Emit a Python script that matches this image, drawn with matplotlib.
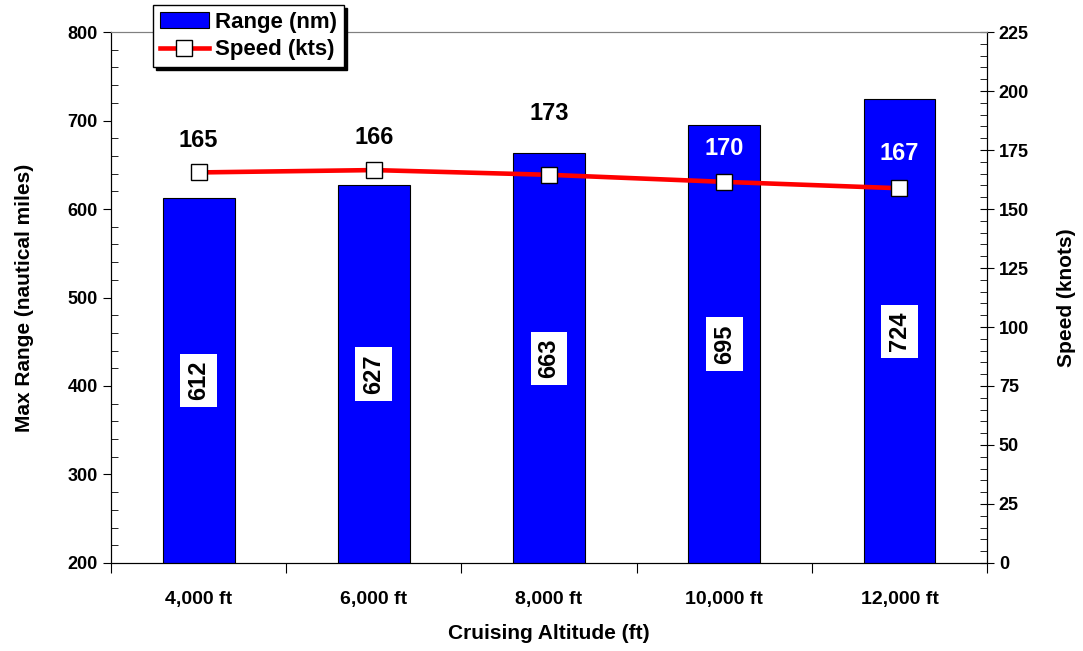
import matplotlib.pyplot as plt
import numpy as np
from matplotlib.ticker import MultipleLocator

plt.rcParams['font.family'] = ['Liberation Sans', 'DejaVu Sans']
plt.rcParams['font.weight'] = 'bold'

# data
altitudes = ["4,000 ft", "6,000 ft", "8,000 ft", "10,000 ft", "12,000 ft"]
ranges = [612, 627, 663, 695, 724]
speeds = [165.5, 166.5, 164.5, 161.5, 158.8]        # where the markers sit
speed_labels = ["165", "166", "173", "170", "167"]   # printed labels
speed_label_y = [179, 180.5, 190.5, 175.5, 173.5]     # label heights (knots)
speed_label_col = ["black", "black", "black", "white", "white"]

fig = plt.figure(figsize=(10.83, 6.51), dpi=100)
ax = fig.add_axes([0.1025, 0.1352, 0.8089, 0.8156])
ax2 = ax.twinx()

x = np.arange(len(altitudes))
bars = ax.bar(x, ranges, width=0.41, color="#0000ff", edgecolor="black",
              linewidth=0.8, label="Range (nm)", zorder=2)
ax.set_ylim(200, 800)
ax.set_xlim(-0.5, len(altitudes) - 0.5)

# range labels, rotated, in middle of bars
for xi, r in zip(x, ranges):
    ax.text(xi, (200 + r) / 2, str(r), rotation=90, ha="center", va="center",
            fontsize=17, fontweight="bold", zorder=3,
            bbox=dict(facecolor="white", edgecolor="none", pad=5))

ln, = ax2.plot(x, speeds, color="#ff0000", linewidth=3.3, marker="s",
               markersize=11, markerfacecolor="white", markeredgecolor="black",
               markeredgewidth=1, label="Speed (kts)")
ax2.set_ylim(0, 225)
for xi, lab, ly, c in zip(x, speed_labels, speed_label_y, speed_label_col):
    ax2.text(xi, ly, lab, ha="center", va="center", fontsize=17,
             fontweight="bold", color=c)

# ticks
ax.set_xticks(np.arange(-0.5, len(altitudes), 1.0))
ax.set_xticklabels([])
ax.set_xticks(x, minor=True)
ax.set_xticklabels(altitudes, minor=True, fontsize=14, fontweight="bold")
ax.tick_params(axis="x", which="major", direction="out", length=7)
ax.tick_params(axis="x", which="minor", length=0, pad=20)

ax.yaxis.set_major_locator(MultipleLocator(100))
ax.yaxis.set_minor_locator(MultipleLocator(20))
ax.tick_params(axis="y", which="major", direction="out", length=6, labelsize=13)
ax.tick_params(axis="y", which="minor", direction="in", length=5)

ax2.yaxis.set_major_locator(MultipleLocator(25))
ax2.yaxis.set_minor_locator(MultipleLocator(5))
ax2.tick_params(axis="y", which="major", direction="inout", length=10, labelsize=13)
ax2.tick_params(axis="y", which="minor", direction="in", length=5)

for a in (ax, ax2):
    a.spines["top"].set_color("#808080")
    a.spines["bottom"].set_color("black")

ax.set_ylabel("Max Range (nautical miles)", fontsize=15, fontweight="bold", labelpad=24)
ax2.set_ylabel("Speed (knots)", fontsize=15, fontweight="bold", labelpad=20)
ax.set_xlabel("Cruising Altitude (ft)", fontsize=15, fontweight="bold", labelpad=12)

leg = fig.legend(handles=[bars, ln], loc="upper left",
                 bbox_to_anchor=(153 / 1083, 1 - 5 / 651), fontsize=16,
                 frameon=True, fancybox=False, edgecolor="black", framealpha=1,
                 shadow={"color": "black", "alpha": 1}, borderpad=0.3,
                 handlelength=2.2, handletextpad=0.3, labelspacing=0.3,
                 borderaxespad=0)
leg.get_frame().set_linewidth(1)

fig.savefig("out.png", dpi=100)
